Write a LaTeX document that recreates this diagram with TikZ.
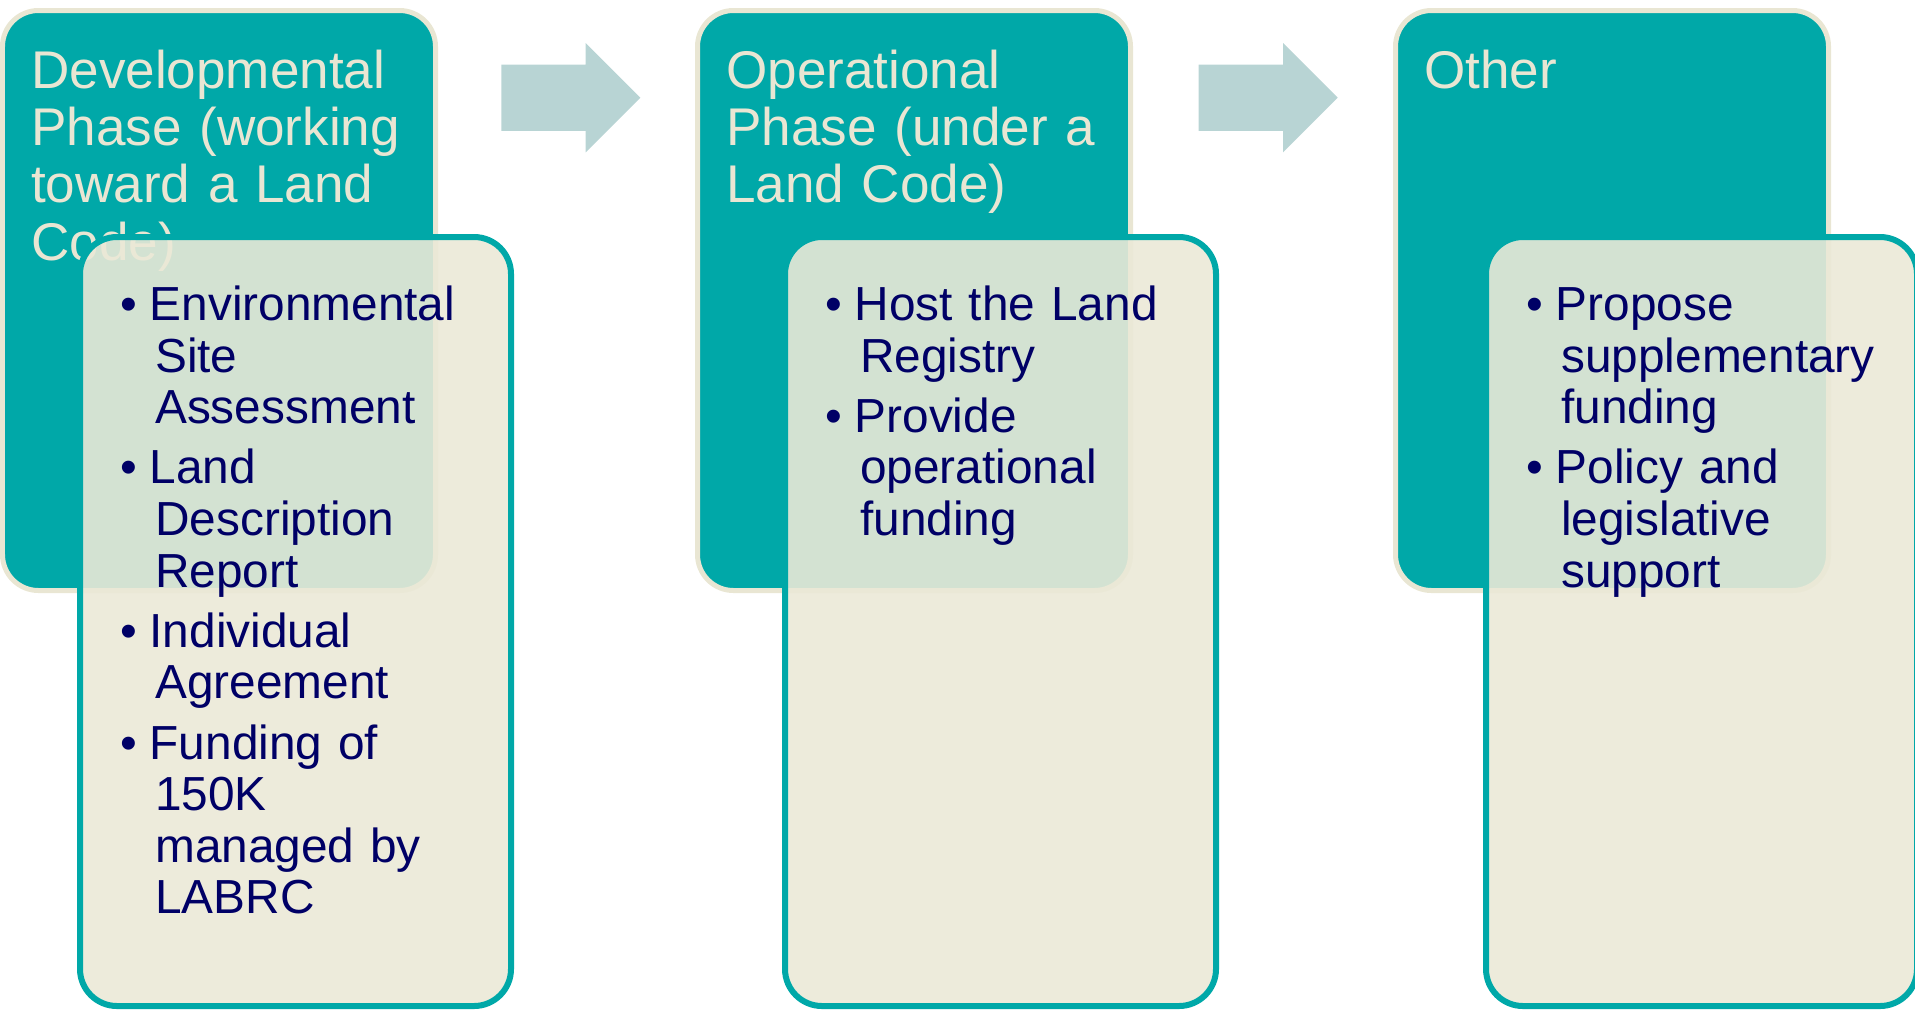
\documentclass[tikz,border=0pt]{standalone}
\usepackage{fontspec}
\setmainfont{Liberation Sans}
\usetikzlibrary{shapes.arrows}

\definecolor{verdeacqua}{RGB}{0,168,168}
\definecolor{crema}{RGB}{235,233,215}
\definecolor{bordocrema}{RGB}{233,230,211}
\definecolor{blunotte}{RGB}{0,0,102}
\definecolor{grigioazzurro}{RGB}{184,212,212}

% Voce di elenco puntato con rientro sospeso
\newcommand{\voce}[1]{\par\hangindent=0.345cm\hangafter=1\noindent\makebox[0.29cm][l]{\textbullet}#1\par\vspace{2.4pt}}

\begin{document}
\begin{tikzpicture}
				% Stili dei riquadri e dei testi
				\tikzset{
					fase/.style={rectangle, rounded corners=0.36cm, fill=verdeacqua, draw=bordocrema, line width=0.05cm, minimum width=4.33cm, minimum height=5.80cm, outer sep=0pt, anchor=north west},
					riquadro/.style={rectangle, rounded corners=0.37cm, fill=crema, fill opacity=0.9, draw=verdeacqua, line width=0.06cm, minimum width=4.31cm, minimum height=7.69cm, outer sep=0pt, anchor=north west},
					titolo/.style={anchor=north west, inner sep=0pt, text width=4cm, align=left, text=bordocrema, font=\fontsize{15.1pt}{16.3pt}\selectfont},
					elenco/.style={anchor=north west, inner sep=0pt, text width=3.9cm, align=left, text=blunotte, font=\fontsize{13.6pt}{14.7pt}\selectfont},
					freccia/.style={single arrow, single arrow head extend=0.215cm, single arrow head indent=0pt, fill=grigioazzurro, draw=none, inner sep=0pt, text height=0.65cm, text depth=0pt, minimum height=1.39cm, anchor=tail}
				}
				
				\useasboundingbox (0,0) rectangle (19.15,-10.10);
				
				% Riquadri delle fasi
				\node[fase] (fase1) at (0.025,-0.105) {};
				\node[fase] (fase2) at (6.975,-0.105) {};
				\node[fase] (fase3) at (13.955,-0.105) {};
				
				% Titoli delle fasi
				\node[titolo] (titolo1) at ([shift={(0.28,-0.385)}]fase1.north west) {Developmental\\Phase (working\\toward a Land\\Code)};
				\node[titolo] (titolo2) at ([shift={(0.28,-0.385)}]fase2.north west) {Operational\\Phase (under a\\Land Code)};
				\node[titolo] (titolo3) at ([shift={(0.28,-0.385)}]fase3.north west) {Other};
				
				% Frecce tra le fasi
				\node[freccia] (freccia1) at (5.007,-0.977) {};
				\node[freccia] (freccia2) at (11.98,-0.977) {};
				
				% Riquadri dei dettagli
				\node[riquadro] (riquadro1) at (0.80,-2.37) {};
				\node[riquadro] (riquadro2) at (7.85,-2.37) {};
				\node[riquadro] (riquadro3) at (14.86,-2.37) {};
				
				% Elenchi puntati
				\node[elenco] (lista1) at ([shift={(0.40,-0.31)}]riquadro1.north west) {%
					\voce{Environmental\newline Site\newline Assessment}%
					\voce{Land\newline Description\newline Report}%
					\voce{Individual\newline Agreement}%
					\voce{Funding of\newline 150K\newline managed by\newline LABRC}};
				\node[elenco] (lista2) at ([shift={(0.40,-0.31)}]riquadro2.north west) {%
					\voce{Host the Land\newline Registry}%
					\voce{Provide\newline operational\newline funding}};
				\node[elenco] (lista3) at ([shift={(0.40,-0.31)}]riquadro3.north west) {%
					\voce{Propose\newline supplementary\newline funding}%
					\voce{Policy and\newline legislative\newline support}};
\end{tikzpicture}
\end{document}
